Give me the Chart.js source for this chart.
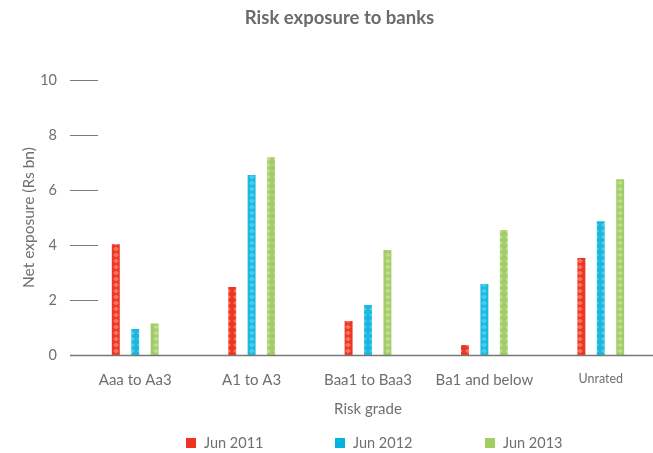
<!DOCTYPE html>
<html>
<head>
<meta charset="utf-8">
<script src="https://cdn.jsdelivr.net/npm/chart.js@4/dist/chart.umd.min.js"></script>
<style>
    html, body { margin: 0; padding: 0; background: #fff; overflow: hidden; }
    #wrap { position: relative; width: 653px; height: 453px; overflow: hidden; }
    #legenda { position: absolute; top: 433px; left: 0; height: 20px; font-family: Lato, "DejaVu Sans", sans-serif; font-size: 14.5px; color: #6f6f6f; }
    .item { position: absolute; top: 0; white-space: nowrap; line-height: 20px; }
    .item span.caixa { position: absolute; left: 0; top: 5px; width: 10px; height: 10px; }
    .item span.txt { position: absolute; left: 18px; top: 0; }
</style>
</head>
<body>
<div id="wrap">
    <canvas id="grafico" width="736" height="453"></canvas>
    <div id="legenda"></div>
</div>
<script>
const categorias = ['Aaa to Aa3', 'A1 to A3', 'Baa1 to Baa3', 'Ba1 and below', 'Unrated']
const jun2011 = [4.03, 2.47, 1.24, 0.36, 3.53]
const jun2012 = [0.95, 6.55, 1.82, 2.58, 4.87]
const jun2013 = [1.15, 7.2, 3.82, 4.55, 6.4]
const seriesNomes = ['Jun 2011', 'Jun 2012', 'Jun 2013']
const yTicks = [0, 2, 4, 6, 8, 10]

const cinza = '#6f6f6f'
const fonte = 'Lato, "DejaVu Sans", sans-serif'

// diamond pattern like the original bars
function padrao(base, claro) {
    const c = document.createElement('canvas')
    c.width = 8
    c.height = 6
    const g = c.getContext('2d')
    g.fillStyle = base
    g.fillRect(0, 0, 8, 6)
    g.fillStyle = claro
    g.beginPath()
    g.moveTo(4, 0.5)
    g.lineTo(7, 3)
    g.lineTo(4, 5.5)
    g.lineTo(1, 3)
    g.closePath()
    g.fill()
    return g.createPattern(c, 'repeat')
}

const legendaCores = ['#ee3424', '#00b4de', '#a2cf62']
const padroes = [
    padrao('#ee3424', '#f7745a'),
    padrao('#1ab8e0', '#4ccbea'),
    padrao('#a2cd66', '#bcdc8e')
]

// short tick marks and baseline, from the scales
const marcas = {
    id: 'marcas',
    afterDatasetsDraw(chart) {
        const { ctx, chartArea, scales } = chart
        const y = scales.y
        ctx.save()
        ctx.strokeStyle = '#7a7a7a'
        ctx.lineWidth = 1
        yTicks.forEach(v => {
            const py = Math.round(y.getPixelForValue(v)) + 0.5
            ctx.beginPath()
            ctx.moveTo(chartArea.left - 7, py)
            ctx.lineTo(chartArea.left + 21, py)
            ctx.stroke()
        })
        const y0 = Math.round(y.getPixelForValue(0)) + 0.5
        ctx.strokeStyle = '#777'
        ctx.lineWidth = 1.5
        ctx.beginPath()
        ctx.moveTo(chartArea.left - 7, y0)
        ctx.lineTo(chartArea.right, y0)
        ctx.stroke()
        ctx.restore()
    }
}

const ctx = document.getElementById('grafico')

new Chart(ctx, {
    type: 'bar',
    data: {
        labels: categorias,
        datasets: [jun2011, jun2012, jun2013].map((d, i) => ({
            label: seriesNomes[i],
            data: d,
            backgroundColor: padroes[i],
            borderWidth: 0,
            categoryPercentage: 0.5,
            barPercentage: 0.41
        }))
    },
    options: {
        responsive: false,
        animation: false,
        layout: { padding: { left: 20, right: 77, top: 0, bottom: 35 } },
        plugins: {
            tooltip: { enabled: false },
            legend: { display: false },
            title: {
                display: true,
                text: 'Risk exposure to banks',
                color: '#6b6b6b',
                font: { family: fonte, size: 18.5, weight: 'bold' },
                padding: { top: 7, bottom: 51 }
            }
        },
        scales: {
            x: {
                grid: { display: false, drawTicks: false },
                border: { display: false },
                ticks: {
                    color: cinza,
                    padding: 16,
                    font: c => ({ family: fonte, size: c.index === 4 ? 12.5 : 15 })
                },
                title: {
                    display: true,
                    text: 'Risk grade',
                    color: cinza,
                    font: { family: fonte, size: 15 },
                    padding: { top: -5, bottom: 0 }
                }
            },
            y: {
                min: 0,
                max: 10,
                afterBuildTicks: s => { s.ticks = yTicks.map(v => ({ value: v })) },
                afterFit: s => { s.width = 57 },
                grid: { display: false, drawTicks: false },
                border: { display: false },
                ticks: {
                    color: cinza,
                    padding: 20,
                    font: { family: fonte, size: 14.5 }
                },
                title: {
                    display: true,
                    text: 'Net exposure (Rs bn)',
                    color: cinza,
                    font: { family: fonte, size: 15.5 },
                    padding: { top: 0, bottom: 5 }
                }
            }
        }
    },
    plugins: [marcas]
})

// legend as html, placed like the original
const legendaX = [186, 335, 485]
const legenda = document.getElementById('legenda')
seriesNomes.forEach((n, i) => {
    legenda.innerHTML += `
        <div class="item" style="left:${legendaX[i]}px">
            <span class="caixa" style="background:${legendaCores[i]}"></span>
            <span class="txt">${n}</span>
        </div>
    `
})
</script>
</body>
</html>
